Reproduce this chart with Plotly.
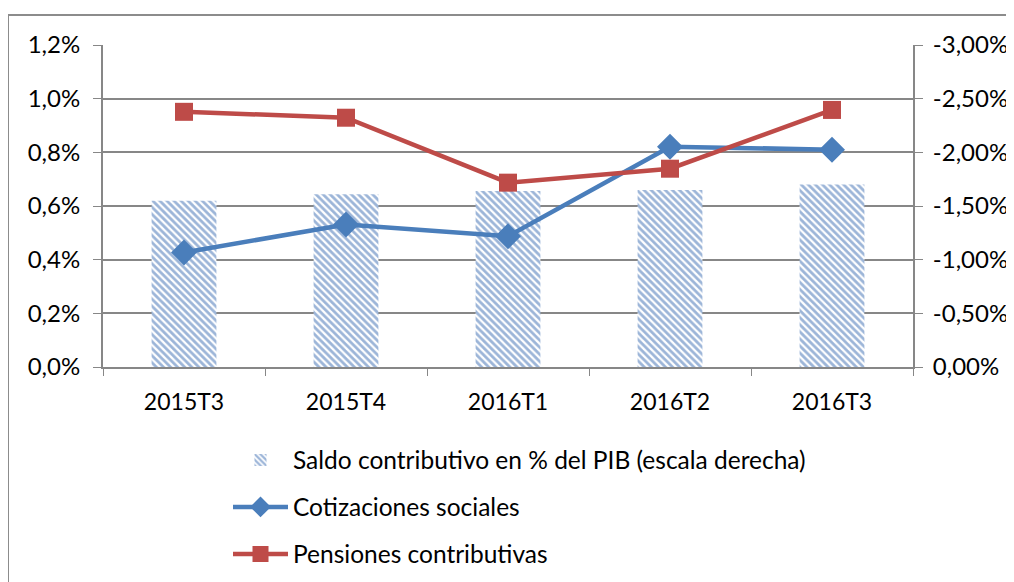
import plotly.graph_objects as go

categories = ["2015T3", "2015T4", "2016T1", "2016T2", "2016T3"]
saldo = [-1.55, -1.61, -1.64, -1.65, -1.70]
cotizaciones = [0.427, 0.531, 0.487, 0.821, 0.810]
pensiones = [0.951, 0.929, 0.687, 0.739, 0.958]

left_ticks = [0, 0.2, 0.4, 0.6, 0.8, 1.0, 1.2]
right_ticks = [0, -0.5, -1.0, -1.5, -2.0, -2.5, -3.0]
left_text = [f"{v:.1f}%".replace(".", ",") for v in left_ticks]
right_text = [f"{v:.2f}%".replace(".", ",").replace("-0,00", "0,00") for v in right_ticks]

BLUE = "#4A7EBB"
HATCH = "#3A6BB2"
RED = "#BE4B48"
GRID = "#878787"
FONT = "Lato"

W, H = 1014, 582
OFF = 8  # browser body margin
# plot area in page pixels (reference)
PL, PR, PT, PB = 103, 913, 45, 367
ML, MT = PL - OFF, PT - OFF
MR, MB = W - (PR - OFF), H - (PB - OFF)
PW, PH = W - ML - MR, H - MT - MB

def px_x(p):
    return (p - OFF - ML) / PW

def px_y(p):
    return (H - MB - (p - OFF)) / PH

fig = go.Figure()
fig.add_trace(go.Bar(
    x=categories, y=saldo, yaxis="y", width=0.4,
    name="Saldo contributivo en % del PIB (escala derecha)",
    marker=dict(color="white", line=dict(width=0),
                pattern=dict(shape="\\", fgcolor=HATCH, bgcolor="white", size=5, solidity=0.55)),
    legend="legend", showlegend=True,
))
fig.add_trace(go.Scatter(
    x=categories, y=cotizaciones, yaxis="y2", mode="lines+markers", name="Cotizaciones sociales",
    line=dict(color=BLUE, width=4.5), marker=dict(symbol="diamond", size=20, color=BLUE),
    legend="legend2",
))
fig.add_trace(go.Scatter(
    x=categories, y=pensiones, yaxis="y2", mode="lines+markers", name="Pensiones contributivas",
    line=dict(color=RED, width=4.5), marker=dict(symbol="square", size=18, color=RED),
    legend="legend3",
))

legend_common = dict(font=dict(family=FONT, size=24.5, color="#000"), bgcolor="rgba(0,0,0,0)",
                     xanchor="left", yanchor="middle", itemwidth=55, tracegroupgap=0)

fig.update_layout(
    width=W, height=H,
    margin=dict(l=ML, r=MR, t=MT, b=MB),
    paper_bgcolor="white", plot_bgcolor="white",
    showlegend=True,
    font=dict(family=FONT, size=23, color="#000"),
    xaxis=dict(type="category", showline=True, linecolor=GRID, linewidth=2,
               ticks="outside", ticklen=7, tickcolor=GRID, tickson="boundaries",
               showgrid=False, tickfont=dict(size=23), ticklabelstandoff=13),
    yaxis=dict(range=[0, -3.0], tickvals=right_ticks, ticktext=right_text, side="right",
               tickfont=dict(size=24),
               showline=True, linecolor=GRID, linewidth=2, ticks="outside", ticklen=8,
               tickcolor=GRID, showgrid=True, gridcolor=GRID, gridwidth=2, zeroline=False,
               ticklabelstandoff=5),
    yaxis2=dict(range=[0, 1.2], tickvals=left_ticks, ticktext=left_text, side="left",
                tickfont=dict(size=24),
                overlaying="y", showline=True, linecolor=GRID, linewidth=2,
                ticks="outside", ticklen=8, tickcolor=GRID, showgrid=False, zeroline=False,
                ticklabelstandoff=8),
    legend=dict(x=px_x(228), y=px_y(460), **legend_common),
    legend2=dict(x=px_x(228), y=px_y(507), **legend_common),
    legend3=dict(x=px_x(228), y=px_y(554), **legend_common),
    shapes=[dict(type="rect", xref="paper", yref="paper",
                 x0=px_x(8), x1=px_x(W + 20), y0=px_y(H + 20), y1=px_y(15),
                 line=dict(color="#8C8C8C", width=2), fillcolor="rgba(0,0,0,0)", layer="below")],
)

fig.write_html("out.html")
